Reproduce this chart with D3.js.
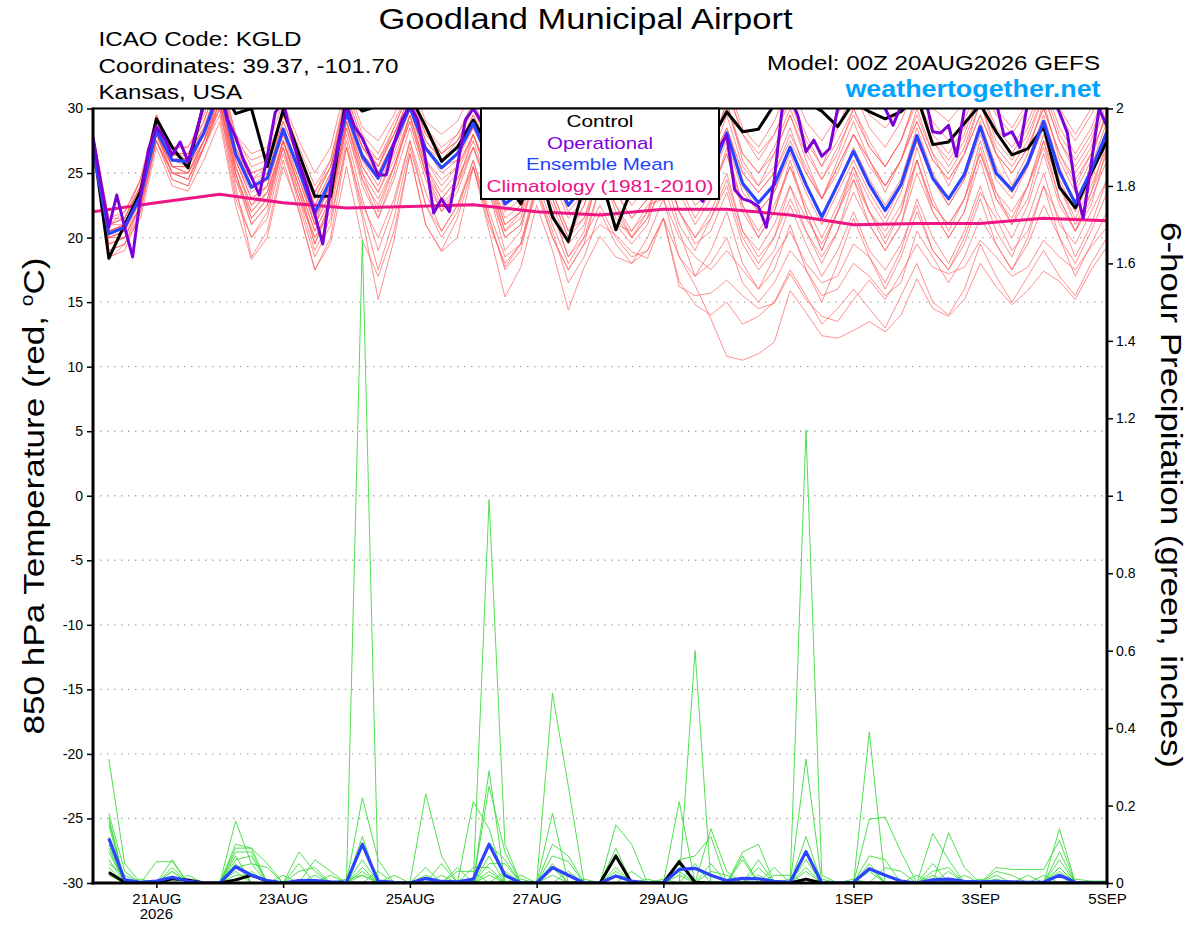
<!DOCTYPE html>
<html><head><meta charset="utf-8">
<script src="https://cdn.jsdelivr.net/npm/d3@7"></script>
<style>
body{margin:0;background:#fff}
svg{display:block}
text{font-family:"Liberation Sans",Arial,Helvetica,sans-serif}
</style>
</head><body>
<svg id="chart" width="1200" height="927"></svg>
<script>
// ---------------- DATA ----------------
const runStartUTC = Date.UTC(2026, 7, 20, 0);   // 00Z 20AUG2026
const runEndUTC   = Date.UTC(2026, 8, 5, 0);    // 00Z 05SEP2026
const tempTicks = [-30,-25,-20,-15,-10,-5,0,5,10,15,20,25,30];
const gridTemps = [-25,-20,-15,-10,-5,0,5,10,15,20,25];
const precipTicks = [0,0.2,0.4,0.6,0.8,1,1.2,1.4,1.6,1.8,2];
const dateTickDays = [Date.UTC(2026,7,21),Date.UTC(2026,7,23),Date.UTC(2026,7,25),Date.UTC(2026,7,27),Date.UTC(2026,7,29),Date.UTC(2026,8,1),Date.UTC(2026,8,3),Date.UTC(2026,8,5)];
const dateTickLabels = ["21AUG","23AUG","25AUG","27AUG","29AUG","1SEP","3SEP","5SEP"];
const legendLabels = ["Control","Operational","Ensemble Mean","Climatology (1981-2010)"];

// 850 hPa temperature, 6-hourly (0..384h)
const controlTemp = [27.5,18.4,21.0,23.6, 29.2,27.0,25.4,30.5, 32.0,29.6,30.0,25.5, 29.9,26.5,23.2,23.2, 31.0,29.8,30.2,30.5, 31.0,28.6,25.9,27.0, 29.1,27.0,24.5,22.6, 26.0,21.6,19.7,24.0, 25.0,20.6,23.8,27.0, 29.0,28.0,26.0,27.5, 29.75,28.2,28.4,30.3, 31.5,30.5,29.8,28.6, 30.5,29.75,29.2,29.75, 31.0,27.2,27.4,28.85, 30.3,28.2,26.4,26.9, 28.6,23.9,22.3,25.0, 27.5];
const meanTemp = [26.8,20.3,20.8,23.2, 28.3,26.0,25.9,28.1, 31.5,26.5,23.9,24.6, 28.4,25.2,21.9,24.5, 29.7,26.3,24.6,27.3, 30.1,26.9,25.4,26.5, 28.85,26.0,22.6,23.5, 27.5,25.0,22.5,24.0, 27.5,25.0,23.2,24.5, 28.0,25.5,23.3,25.0, 28.1,24.2,22.7,24.1, 27.0,24.1,21.6,24.1, 26.7,24.1,22.1,24.1, 27.9,24.6,23.0,24.9, 28.6,25.0,23.7,25.75, 29.0,25.1,22.65,25.2, 28.2];
// operational, 3-hourly (0..384h)
const operTemp = [27.8,24.2,20.8,23.3,20.8,18.5,23.2,26.8, 28.6,27.7,26.4,27.4,25.9,28.1,30.3,31.5, 32.0,29.1,27.8,26.0,24.7,23.3,26.3,29.7, 30.5,28.0,25.8,24.0,21.8,19.5,23.9,27.5, 30.3,28.6,27.7,26.3,24.85,24.85,27.3,29.1, 30.3,29.1,26.0,21.9,23.0,22.0,25.5,29.1, 30.0,29.0,27.0,25.5,24.5,25.0,27.0,29.0, 30.5,29.5,27.0,25.0,24.0,24.5,26.5,28.5, 30.0,29.0,27.0,25.0,23.5,24.0,26.0,28.0, 29.5,28.5,26.5,24.5,23.5,22.8,25.0,27.0, 27.9,23.7,23.0,22.8,22.4,20.8,24.5,30.0, 31.0,29.4,26.65,27.55,26.3,26.9,30.0,31.0, 31.0,31.5,31.0,30.5,30.0,28.7,30.2,31.0, 31.5,31.0,28.2,28.1,28.7,26.3,30.0,31.0, 31.5,31.0,30.5,27.9,28.2,27.0,30.5,31.0, 31.5,31.0,29.7,28.1,23.9,21.5,25.7,30.0, 28.6];
// climatology, daily
const climTemp = [22.0,22.7,23.35,22.7,22.3,22.4,22.55,22.0,21.75,22.2,22.2,21.75,21.0,21.1,21.1,21.5,21.3];

// ensemble members, 6-hourly
const memberTemps = [
[27.5,21.0,21.5,24.0, 29.0,26.5,26.5,28.5, 32.0,27.5,25.0,25.5, 29.5,26.5,23.5,26.0, 31.0,27.5,26.0,28.5, 31.5,28.5,26.5,28.0, 30.5,28.0,25.5,26.0, 30.0,27.5,25.5,27.0, 30.5,28.0,26.0,27.5, 31.0,28.5,26.5,28.0, 31.5,28.0,26.0,28.0, 31.0,28.0,25.5,28.5, 31.5,28.5,27.0,29.0, 32.0,29.0,27.5,29.0, 32.5,29.5,28.0,30.0, 32.5,29.5,27.5,29.5, 32.0],
[27.0,19.0,19.5,22.5, 28.0,25.0,24.5,27.5, 30.5,25.0,21.5,23.0, 27.0,23.5,20.0,22.5, 28.5,24.5,22.5,25.5, 29.0,25.0,23.0,24.5, 27.0,23.5,20.0,21.0, 25.0,22.0,18.5,20.0, 22.5,20.0,18.5,19.0, 21.5,18.5,16.3,13.7, 10.8,10.5,11.0,11.9, 15.9,14.2,12.4,12.2, 12.8,13.5,12.7,14.0, 16.8,14.5,13.9,15.2, 18.0,16.2,14.8,15.9, 17.4,16.6,15.2,17.5, 19.3],
[27.0,19.5,20.0,22.5, 27.5,25.0,24.5,27.0, 29.5,23.0,20.0,22.0, 27.0,22.5,18.5,21.0, 27.5,22.0,17.5,21.5, 27.0,22.5,20.0,22.0, 26.0,21.5,17.5,19.0, 24.0,20.5,16.5,18.5, 22.0,19.5,18.0,19.0, 21.5,16.2,15.5,15.7, 16.7,15.5,14.5,14.9, 17.2,15.2,13.9,13.5, 15.2,16.7,15.2,17.2, 19.5,17.7,17.2,17.7, 19.8,18.5,17.0,17.7, 19.8,18.5,17.5,19.3, 20.8],
[27.5,20.5,21.0,23.5, 28.5,26.0,26.5,28.5, 31.5,26.0,23.0,24.0, 28.5,25.0,21.0,24.5, 30.0,27.0,25.5,28.0, 30.5,27.5,26.0,27.0, 29.5,26.5,23.0,24.5, 28.5,26.0,23.5,25.0, 28.0,26.0,24.0,25.5, 29.5,27.0,24.0,26.0, 29.5,25.5,24.0,25.5, 28.5,25.0,23.0,25.5, 28.0,26.0,24.0,26.0, 29.5,26.5,25.0,27.0, 30.5,27.0,25.5,27.5, 31.0,27.5,25.0,27.0, 30.5],
[27.0,20.0,20.5,23.0, 28.0,25.5,25.0,27.5, 31.0,25.5,22.0,23.5, 27.5,24.0,19.5,23.0, 29.0,25.0,22.0,25.5, 29.5,25.5,23.5,25.0, 28.0,24.5,21.0,22.0, 26.5,23.0,20.0,22.5, 26.0,23.5,21.5,23.0, 27.0,24.0,21.5,23.5, 26.5,22.0,20.0,22.0, 25.5,22.0,19.0,22.0, 24.5,22.0,20.0,22.0, 26.0,22.5,21.0,23.0, 26.5,23.0,21.5,24.0, 27.0,23.0,20.5,23.5, 26.5],
[28.0,21.0,21.5,24.5, 29.5,26.5,26.0,28.0, 32.0,27.0,24.0,25.0, 29.0,26.0,22.5,25.0, 30.5,26.0,24.0,27.0, 30.0,26.0,24.5,25.5, 28.0,25.0,21.0,22.0, 26.0,23.5,20.5,21.5, 24.5,21.0,20.5,22.5, 23.0,20.0,18.5,17.5, 19.0,17.5,16.0,18.5, 20.5,18.0,16.5,17.0, 19.5,18.5,16.0,18.5, 22.0,19.0,17.5,20.0, 23.5,21.5,19.0,20.5, 24.0,21.5,18.5,21.0, 24.5],
[28.0,21.5,22.0,24.5, 29.0,27.0,27.0,29.5, 33.0,28.0,25.5,26.0, 30.0,27.0,24.0,26.0, 31.5,28.0,26.5,29.0, 31.5,28.5,27.0,28.0, 30.0,27.5,24.5,25.5, 29.5,27.0,24.5,26.0, 29.5,27.0,25.0,27.0, 30.5,27.5,25.5,27.0, 30.5,26.5,25.0,27.0, 30.0,27.0,24.5,27.0, 29.5,27.0,25.5,27.5, 31.0,28.0,26.5,28.5, 31.5,28.5,27.0,29.0, 32.0,28.5,26.5,28.5, 31.5],
[27.5,18.5,19.0,22.0, 27.5,24.5,24.0,27.0, 30.0,24.0,18.5,20.5, 26.0,22.0,17.5,20.0, 27.0,21.5,15.2,19.8, 26.5,21.0,19.0,21.5, 25.5,20.5,15.4,17.7, 22.5,19.0,14.4,17.7, 20.1,18.5,18.0,20.0, 23.0,18.5,17.0,19.0, 22.0,18.0,16.0,17.5, 21.0,17.5,15.0,18.0, 21.5,18.5,16.5,19.0, 23.0,20.0,18.0,20.5, 24.0,20.5,18.5,21.5, 25.0,21.0,19.5,22.0, 24.5],
[27.0,20.0,20.5,23.0, 28.5,26.5,26.0,28.0, 31.0,27.5,26.0,26.5, 29.5,26.5,23.5,25.5, 30.0,27.0,26.0,28.0, 31.0,28.0,26.5,27.5, 29.0,27.0,24.5,25.5, 28.5,26.5,25.0,26.5, 29.0,27.0,25.5,26.0, 29.0,26.5,24.5,26.0, 28.5,25.0,23.5,25.0, 27.5,25.0,23.0,25.0, 28.0,25.5,24.0,26.0, 29.0,26.0,24.5,26.5, 29.5,26.5,25.0,27.0, 30.0,26.5,24.5,26.5, 29.5],
[26.5,18.3,19.5,21.5, 27.0,24.0,23.6,26.0, 29.0,22.5,18.3,20.0, 25.5,22.1,17.5,19.6, 25.5,19.8,17.0,20.5, 26.5,21.0,18.9,20.0, 25.5,21.0,18.0,19.5, 24.0,20.0,17.5,19.5, 21.0,20.2,18.9,18.4, 21.5,16.6,14.8,14.0, 15.0,13.3,13.9,15.0, 17.5,15.5,13.3,14.5, 16.0,14.5,13.0,15.5, 18.0,15.0,14.0,16.0, 19.5,17.0,15.0,17.0, 19.0,17.0,15.5,18.0, 20.0],
[27.0,20.5,21.0,23.5, 28.0,25.5,25.5,28.0, 31.5,26.5,24.0,24.5, 28.0,25.5,22.0,24.0, 29.5,26.0,24.5,27.0, 30.0,27.0,25.0,26.0, 28.5,26.0,22.5,23.5, 27.5,25.0,22.5,24.5, 27.5,25.5,23.5,24.5, 28.0,25.0,23.0,24.5, 27.5,23.5,22.0,23.5, 26.5,23.5,21.0,23.5, 26.0,23.5,21.5,24.0, 27.5,24.5,22.5,24.5, 28.0,24.5,23.0,25.5, 28.5,24.5,22.0,24.5, 28.0],
[27.5,20.5,21.0,23.5, 28.5,26.0,26.0,28.0, 31.0,26.0,23.5,24.5, 28.0,25.0,21.5,24.0, 29.5,26.5,25.0,27.5, 30.5,27.0,26.0,27.0, 29.5,27.0,24.0,25.0, 29.0,26.5,24.5,26.0, 30.0,27.5,25.5,27.0, 31.0,28.5,26.5,28.5, 32.0,28.5,27.0,29.0, 32.0,29.0,27.5,29.5, 32.5,29.5,28.5,30.0, 32.5,30.0,29.0,30.5, 33.0,30.0,28.5,30.5, 33.0,30.0,28.0,30.0, 32.0],
[27.0,19.5,20.0,22.5, 27.5,24.5,24.0,27.0, 30.5,24.5,21.0,22.5, 27.0,23.0,20.0,22.0, 28.0,23.0,19.0,22.5, 27.5,23.5,20.5,22.5, 25.5,21.5,17.7,19.5, 23.5,20.0,17.5,19.5, 24.0,21.0,19.5,21.0, 25.0,21.0,19.0,21.5, 24.0,20.0,18.0,20.0, 23.0,20.5,18.0,20.5, 23.5,21.0,19.0,21.0, 25.0,22.0,20.0,22.0, 26.0,22.0,20.0,22.5, 26.5,22.5,20.5,23.0, 26.0],
[28.0,21.0,22.0,24.5, 29.5,27.0,27.0,29.0, 32.5,27.5,25.0,25.5, 29.5,26.5,23.0,25.5, 31.0,27.5,25.5,28.5, 31.5,28.0,26.5,27.5, 30.0,27.0,23.5,24.5, 29.0,26.0,23.5,25.5, 29.5,26.5,24.0,26.0, 30.5,27.0,24.5,26.5, 30.5,26.0,24.0,26.5, 29.5,26.0,23.0,26.0, 29.0,26.0,23.5,26.0, 30.0,26.5,24.0,26.5, 30.5,26.5,24.0,26.5, 30.5,26.0,23.5,26.0, 30.0],
[27.0,20.0,20.5,23.0, 28.0,25.5,25.5,27.5, 31.0,25.5,22.5,23.5, 27.5,24.5,21.0,23.5, 29.0,25.5,23.5,26.0, 29.5,25.5,23.0,24.5, 27.5,24.0,20.5,21.5, 26.0,23.0,20.0,21.5, 25.5,22.0,20.0,21.5, 24.0,20.5,17.0,18.0, 20.0,16.5,15.0,16.5, 19.0,17.5,15.5,16.0, 18.0,17.0,15.5,16.5, 20.5,18.5,16.5,18.5, 21.5,19.5,17.5,19.5, 22.5,20.0,17.0,19.5, 22.0],
[27.5,21.0,21.0,23.5, 28.5,26.0,26.0,28.0, 31.5,26.5,24.5,25.0, 28.5,25.5,22.5,25.0, 30.0,26.5,25.0,27.5, 30.0,27.0,25.5,26.5, 28.5,26.0,23.0,24.0, 28.0,25.5,23.0,24.5, 28.0,25.5,23.5,25.0, 28.5,26.0,24.0,25.5, 28.5,25.0,23.5,25.0, 28.0,25.5,23.0,25.5, 28.0,26.0,24.0,26.0, 29.0,26.0,24.5,26.5, 29.5,26.5,25.0,27.0, 30.0,26.5,24.0,26.5, 29.5],
[27.5,19.0,19.5,22.0, 27.5,25.0,25.0,27.5, 30.0,23.5,20.0,21.5, 26.5,23.0,19.0,21.5, 27.0,22.5,20.0,23.0, 27.5,22.5,20.5,22.5, 26.0,22.0,18.5,19.5, 24.5,21.0,18.0,20.0, 24.0,21.5,20.0,22.0, 25.5,22.0,20.0,21.5, 24.5,20.5,19.0,21.0, 24.0,21.5,19.5,22.0, 25.0,22.0,20.5,22.5, 26.0,22.5,21.0,23.0, 26.5,23.5,22.0,24.0, 27.5,24.0,21.5,24.0, 27.0],
[27.5,20.5,21.0,23.5, 28.5,25.5,25.5,27.5, 30.5,25.5,22.5,24.0, 28.0,24.5,21.0,23.5, 29.5,25.5,23.5,26.5, 30.0,26.0,24.0,25.5, 28.0,25.0,21.5,22.5, 27.0,24.5,21.5,23.0, 27.0,24.5,22.5,24.0, 28.0,25.0,22.5,23.5, 26.5,22.5,20.5,22.5, 25.5,22.5,20.0,22.5, 25.5,23.0,21.0,23.5, 27.5,24.5,22.5,24.5, 28.5,25.0,23.5,25.5, 29.0,25.0,22.5,25.0, 28.5],
[28.0,21.5,21.5,24.0, 29.0,26.5,26.5,29.0, 32.5,28.0,26.5,27.0, 30.5,27.5,25.0,27.0, 32.0,28.5,27.5,29.5, 32.5,29.0,28.0,29.0, 31.5,28.5,26.0,27.0, 31.0,28.5,26.0,27.5, 31.5,29.0,27.0,28.5, 32.0,29.0,27.5,28.5, 31.5,28.0,26.5,28.0, 30.5,27.5,25.5,27.5, 30.0,27.5,25.5,27.5, 30.5,27.5,25.5,27.5, 31.0,27.5,26.0,28.0, 31.0,27.5,25.5,27.5, 31.0],
[27.0,20.0,20.0,22.5, 27.5,25.0,25.0,27.0, 30.5,25.0,21.5,23.0, 27.5,24.0,20.5,23.0, 29.0,25.0,23.0,25.5, 29.0,25.0,22.5,24.0, 27.0,24.0,20.0,21.0, 25.5,22.5,19.5,21.0, 25.0,22.5,20.5,22.0, 26.0,22.0,19.5,20.5, 23.5,19.5,17.5,19.0, 22.5,19.5,17.0,19.0, 22.0,19.0,17.5,19.5, 22.5,19.0,17.5,19.5, 23.0,19.5,17.5,20.0, 24.0,20.0,18.0,20.5, 23.5],
[27.5,21.0,21.5,24.0, 29.0,26.5,26.0,28.5, 32.0,27.0,24.5,25.5, 29.0,26.0,23.0,25.5, 30.5,27.0,25.5,28.0, 31.0,27.5,26.0,27.5, 30.0,27.5,24.5,25.5, 29.5,27.0,24.5,26.0, 29.5,27.0,25.0,26.5, 30.0,27.0,25.0,27.0, 30.0,26.5,25.0,26.5, 29.5,26.5,24.5,26.5, 30.0,27.0,25.5,27.5, 31.0,27.5,26.0,28.0, 31.5,28.0,26.5,28.5, 31.5,28.0,26.0,28.0, 31.0],
[27.0,19.5,20.0,23.0, 28.0,25.5,25.0,27.5, 31.0,25.0,21.0,22.5, 27.5,23.5,19.5,22.5, 29.0,24.5,21.5,25.0, 29.5,25.0,22.0,24.0, 28.0,24.5,20.5,22.0, 27.0,23.5,20.5,22.5, 26.5,23.5,21.5,23.0, 27.5,23.5,21.0,23.0, 27.0,22.5,20.0,22.0, 26.0,22.0,19.0,22.0, 25.5,22.0,19.5,22.0, 27.0,23.0,20.5,23.0, 27.5,23.5,21.0,24.0, 28.0,24.0,21.0,23.5, 27.5],
[27.5,20.0,20.5,23.5, 28.5,26.0,25.5,28.0, 31.5,26.0,23.0,24.0, 28.5,25.0,21.5,24.0, 30.5,27.0,25.0,27.5, 30.5,27.0,25.5,26.0, 29.0,26.0,22.0,23.0, 27.5,25.0,22.0,23.5, 27.0,25.0,23.0,24.0, 28.0,25.5,23.0,24.5, 28.0,24.0,22.0,23.5, 27.0,24.0,21.5,24.0, 27.0,24.5,22.5,24.5, 28.5,25.0,23.0,25.0, 29.0,25.5,23.5,26.0, 29.5,25.5,22.5,25.5, 29.0],
[28.0,20.5,21.0,23.0, 28.0,25.0,24.5,27.0, 30.0,24.5,22.0,23.5, 27.5,24.0,20.5,23.0, 28.5,24.0,21.5,24.5, 28.5,24.5,22.0,23.5, 27.0,23.5,19.0,20.5, 25.5,22.0,18.5,20.5, 25.5,22.5,20.0,21.5, 26.0,22.0,20.0,22.0, 25.0,20.5,18.5,20.0, 24.0,20.5,18.5,20.5, 24.5,21.0,19.0,21.0, 26.0,22.0,20.0,22.0, 27.0,23.0,21.0,23.0, 27.5,23.0,20.5,22.5, 27.0]
];

// 6-hour precipitation (inches), values for 6h..384h
const meanPrecip = [.115,.008,.002,.005,.015,.005,0,0, .042,.02,.006,0,.006,.006,.003,.002, .10,.005,.002,0,.012,.004,.003,.01, .10,.02,0,0,.04,.02,0,0, .018,.005,0,0,.035,.038,.02,.006, .012,.011,.004,.002,.081,0,0,.002, .037,.02,.005,0,.008,.01,.004,.003, .004,.003,.002,.002,.02,.002,0,0];
const controlPrecip = [.027,.002,0,0,.011,.008,0,0, .008,.02,.005,0,0,0,0,0, 0,0,0,0,0,0,0,0, 0,0,0,0,0,0,0,0, .07,0,0,0,.055,.002,0,0, 0,0,0,0,.01,0,0,0, 0,0,0,0,0,0,0,0, 0,0,0,0,0,0,0,0];
const memberPrecips = [
[.32,.05,0,0,0,0,0,0, .05,0,0,0,0,0,0,0, 1.66,0,0,0,0,0,0,0, .07,0,0,0,.05,0,0,0, 0,0,0,0,0,.6,0,0, 0,0,0,0,.06,0,0,0, .05,0,0,0,0,0,0,0, 0,0,0,0,.04,0,0,0],
[.18,.03,0,0,0,0,0,0, .16,.05,0,0,0,0,0,0, .22,.06,0,0,0,0,0,0, .99,.10,0,0,0,0,0,0, .07,0,0,0,0,0,0,0, 0,0,0,0,1.17,.02,0,0, 0,0,0,0,.05,0,0,0, 0,0,0,0,0,0,0,0],
[.17,0,0,0,.06,0,0,0, .10,.09,0,0,0,0,0,0, 0,0,0,0,.23,.07,0,0, .29,0,0,0,.49,.25,0,0, 0,0,0,0,.21,0,0,0, 0,0,0,0,0,0,0,0, .39,0,0,0,0,0,0,0, 0,0,0,0,.14,0,0,0],
[.16,0,0,.055,.055,0,0,0, 0,0,0,0,.08,.03,0,0, .12,0,0,0,0,0,0,0, .25,.08,0,0,0,0,0,0, .15,.10,0,0,0,0,0,0, .08,.10,0,0,0,0,0,0, 0,0,0,0,0,.13,.04,0, 0,0,0,0,0,0,0,0],
[.15,0,0,0,0,0,0,0, .09,.09,.05,0,0,0,0,0, 0,0,0,0,0,0,0,.21, .14,0,0,0,.18,0,0,0, 0,0,0,0,0,0,.14,.03, 0,0,0,0,.32,0,0,0, 0,0,0,0,.128,.06,0,0, 0,0,0,0,0,0,0,0],
[.12,0,0,0,0,0,0,0, .08,.08,0,0,0,0,0,0, .06,0,0,0,0,0,0,0, .10,.06,0,0,0,0,0,0, 0,0,0,0,.06,.07,.12,0, 0,0,0,0,0,0,0,0, .165,.17,.08,0,0,0,0,0, .04,.035,.035,.035,.11,0,0,0],
[.10,0,0,0,.04,0,0,0, .07,0,0,0,0,.06,.03,0, 0,0,0,0,0,.05,0,0, 0,0,0,0,.10,.07,0,0, .09,0,0,0,0,0,0,0, .07,0,0,0,.12,0,0,0, .07,.06,0,0,0,0,0,0, 0,0,0,0,.08,0,0,0],
[.08,0,0,0,0,0,0,0, .06,.07,0,0,.05,0,0,0, 0,0,0,0,0,0,0,0, .05,.05,0,0,0,0,0,0, .04,0,0,0,.05,0,0,0, 0,.06,0,0,0,0,0,0, .04,0,0,0,.03,.04,0,0, 0,0,0,0,.06,0,0,0],
[.05,.02,0,0,0,0,0,0, .04,.05,.04,0,0,0,0,0, .04,0,0,0,.04,0,0,.04, .04,0,0,0,.07,.055,0,0, 0,0,0,0,0,0,.05,0, .06,0,.04,0,0,0,0,0, 0,0,0,0,0,0,0,0, .03,.02,0,0,.04,0,0,0],
[.04,0,0,0,.03,0,0,0, 0,0,0,0,.03,.04,0,0, .03,0,0,0,0,0,.04,0, 0,.03,0,0,.04,0,0,0, 0,.03,0,0,0,.05,0,0, 0,.04,0,0,.04,0,0,0, 0,.04,.03,0,0,0,.02,0, 0,0,.02,0,.02,0,0,0],
[.03,0,.01,0,0,0,0,0, 0,.03,0,0,0,0,.02,0, .02,0,0,0,.02,0,.03,.03, 0,0,.02,0,0,0,0,0, .02,0,0,0,.03,0,.03,.02, 0,0,.02,.02,0,0,0,0, 0,0,0,0,0,0,0,0, .02,0,0,.02,0,0,0,0],
[.02,0,0,0,0,.02,0,0, 0,0,0,.02,0,0,0,.01, .02,0,.02,0,0,0,0,0, 0,0,.01,0,0,0,.01,0, 0,0,.01,0,0,0,0,0, 0,0,0,.01,0,0,0,.01, 0,0,0,.02,0,0,0,.01, 0,0,0,0,0,.01,.005,.005],
[.06,0,0,0,.03,0,0,0, .03,0,0,0,0,.02,0,0, 0,.03,0,0,0,0,0,0, .03,0,0,0,.02,0,0,0, .03,0,0,.01,0,0,0,0, 0,0,0,0,.03,0,0,0, .03,0,0,0,0,.03,0,0, .01,0,0,0,0,0,0,0],
[.09,0,0,0,0,0,0,0, .02,.02,0,0,0,0,0,0, 0,0,0,0,0,.02,0,0, .02,0,0,0,0,.03,0,0, 0,0,0,0,.02,0,0,0, 0,.02,0,0,0,.01,0,0, 0,0,0,0,.02,0,0,0, 0,0,0,0,.03,0,0,0]
];

// ---------------- CHART ----------------
const plot = {left: 93, right: 1107, top: 108.5, bottom: 883};
const HOUR = 3600e3;
const svg = d3.select("#chart");

const x = d3.scaleUtc().domain([new Date(runStartUTC), new Date(runEndUTC)]).range([plot.left, plot.right]);
const yT = d3.scaleLinear().domain([-30, 30]).range([plot.bottom, plot.top]);
const yP = d3.scaleLinear().domain([0, 2]).range([plot.bottom, plot.top]);

svg.append("defs").append("clipPath").attr("id","plotClip")
  .append("rect").attr("x",plot.left).attr("y",plot.top)
  .attr("width",plot.right-plot.left).attr("height",plot.bottom-plot.top);

// grid
svg.append("g").selectAll("line").data(gridTemps).join("line")
  .attr("x1",plot.left).attr("x2",plot.right)
  .attr("y1",d=>yT(d)).attr("y2",d=>yT(d))
  .attr("stroke","#a8a8a8").attr("stroke-width",1.4).attr("stroke-dasharray","1.4,5.6");

const series = svg.append("g").attr("clip-path","url(#plotClip)");

const line6T = d3.line().x((d,i)=>x(new Date(runStartUTC + i*6*HOUR))).y(d=>yT(d));
const line3T = d3.line().x((d,i)=>x(new Date(runStartUTC + i*3*HOUR))).y(d=>yT(d));
const lineDayT = d3.line().x((d,i)=>x(new Date(runStartUTC + i*24*HOUR))).y(d=>yT(d));
const line6P = d3.line().x((d,i)=>x(new Date(runStartUTC + (i+1)*6*HOUR))).y(d=>yP(d));

// ensemble members (temperature)
series.append("g").selectAll("path").data(memberTemps).join("path")
  .attr("d",line6T).attr("fill","none").attr("stroke","#ff5a5a")
  .attr("stroke-width",0.85).attr("stroke-opacity",0.8);

// ensemble members (precip)
series.append("g").selectAll("path").data(memberPrecips).join("path")
  .attr("d",line6P).attr("fill","none").attr("stroke","#3cdc3c")
  .attr("stroke-width",0.9);

// precip control + mean
series.append("path").datum(controlPrecip).attr("d",line6P).attr("fill","none")
  .attr("stroke","#000").attr("stroke-width",3).attr("stroke-linejoin","round");
series.append("path").datum(meanPrecip).attr("d",line6P).attr("fill","none")
  .attr("stroke","#2a44ff").attr("stroke-width",3.2).attr("stroke-linejoin","round");

// climatology
series.append("path").datum(climTemp).attr("d",lineDayT).attr("fill","none")
  .attr("stroke","#ee1585").attr("stroke-width",3).attr("stroke-linejoin","round");
// control
series.append("path").datum(controlTemp).attr("d",line6T).attr("fill","none")
  .attr("stroke","#000").attr("stroke-width",3).attr("stroke-linejoin","round");
// mean
series.append("path").datum(meanTemp).attr("d",line6T).attr("fill","none")
  .attr("stroke","#2a44ff").attr("stroke-width",3.2).attr("stroke-linejoin","round");
// operational
series.append("path").datum(operTemp).attr("d",line3T).attr("fill","none")
  .attr("stroke","#7d00d8").attr("stroke-width",3).attr("stroke-linejoin","round");

// axes
const axL = svg.append("g").attr("transform",`translate(${plot.left},0)`)
  .call(d3.axisLeft(yT).tickValues(tempTicks).tickSize(6).tickPadding(4).tickFormat(d=>String(d)));
const axR = svg.append("g").attr("transform",`translate(${plot.right},0)`)
  .call(d3.axisRight(yP).tickValues(precipTicks).tickSize(6).tickPadding(3).tickFormat(d=>String(+d.toFixed(1))));
const axB = svg.append("g").attr("transform",`translate(0,${plot.bottom})`)
  .call(d3.axisBottom(x).tickValues(dateTickDays.map(d=>new Date(d))).tickSize(5).tickPadding(5)
    .tickFormat((d,i)=>dateTickLabels[i]));
[axL,axR,axB].forEach(a=>{
  a.select(".domain").remove();
  a.selectAll(".tick line").attr("stroke","#000").attr("stroke-width",1.5);
  a.selectAll(".tick text").attr("fill","#000").style("font-size","14px")
    .style("font-family",'"Liberation Sans",Arial,sans-serif');
});
axB.selectAll(".tick text").style("font-size","15px");
svg.append("text").attr("x",x(new Date(dateTickDays[0]))).attr("y",919)
  .attr("text-anchor","middle").style("font-size","15px").text("2026");

// frame
const frame = svg.append("g").attr("stroke","#000").attr("fill","none");
frame.append("line").attr("x1",plot.left).attr("x2",plot.right).attr("y1",plot.top).attr("y2",plot.top).attr("stroke-width",2);
frame.append("line").attr("x1",plot.left).attr("x2",plot.left).attr("y1",plot.top-1).attr("y2",plot.bottom+1.5).attr("stroke-width",3);
frame.append("line").attr("x1",plot.right).attr("x2",plot.right).attr("y1",plot.top-1).attr("y2",plot.bottom+1.5).attr("stroke-width",3);
frame.append("line").attr("x1",plot.left-1.5).attr("x2",plot.right+1.5).attr("y1",plot.bottom).attr("y2",plot.bottom).attr("stroke-width",3);

// legend
const legendColors = ["#000000","#8000dd","#2244ff","#ee1188"];
const legendLens = [67, 106, 148, 227];
const lg = svg.append("g");
lg.append("rect").attr("x",481).attr("y",plot.top).attr("width",238).attr("height",90.5)
  .attr("fill","#fff").attr("stroke","#000").attr("stroke-width",2);
lg.selectAll("text").data(legendLabels).join("text")
  .attr("x",600).attr("y",(d,i)=>127+i*21.6).attr("text-anchor","middle")
  .attr("fill",(d,i)=>legendColors[i]).style("font-size","17px")
  .attr("textLength",(d,i)=>legendLens[i]).attr("lengthAdjust","spacingAndGlyphs").text(d=>d);

// header texts
svg.append("text").attr("x",585.5).attr("y",29).attr("text-anchor","middle")
  .style("font-size","30px").attr("textLength",414).attr("lengthAdjust","spacingAndGlyphs")
  .text("Goodland Municipal Airport");
const infoLines = [["ICAO Code: KGLD",46,203],["Coordinates: 39.37, -101.70",72.5,300],["Kansas, USA",99,143.5]];
svg.append("g").selectAll("text").data(infoLines).join("text")
  .attr("x",98.5).attr("y",d=>d[1]).style("font-size","20px")
  .attr("textLength",d=>d[2]).attr("lengthAdjust","spacingAndGlyphs").text(d=>d[0]);
svg.append("text").attr("x",1100).attr("y",70).attr("text-anchor","end")
  .style("font-size","20px").attr("textLength",333).attr("lengthAdjust","spacingAndGlyphs")
  .text("Model: 00Z 20AUG2026 GEFS");
svg.append("text").attr("x",1100.5).attr("y",97).attr("text-anchor","end")
  .style("font-size","23px").style("font-weight","bold").attr("fill","#00a2ff")
  .attr("textLength",255).attr("lengthAdjust","spacingAndGlyphs")
  .text("weathertogether.net");

// axis titles
const lt = svg.append("text").attr("transform","translate(44,496) rotate(-90)")
  .attr("text-anchor","middle").style("font-size","30px")
  .attr("textLength",477).attr("lengthAdjust","spacingAndGlyphs");
lt.append("tspan").text("850 hPa Temperature (red, ");
lt.append("tspan").attr("dy",-11).style("font-size","18px").text("o");
lt.append("tspan").attr("dy",11).text("C)");
svg.append("text").attr("transform","translate(1161,495) rotate(90)")
  .attr("text-anchor","middle").style("font-size","30px")
  .attr("textLength",546).attr("lengthAdjust","spacingAndGlyphs")
  .text("6-hour Precipitation (green, inches)");
</script>
</body></html>
